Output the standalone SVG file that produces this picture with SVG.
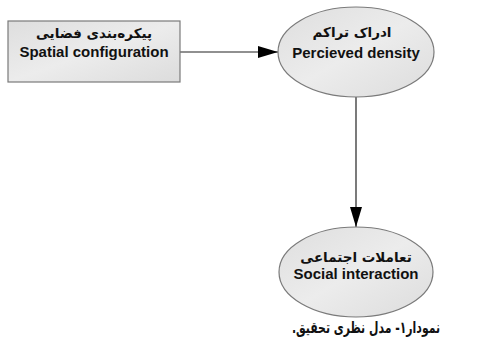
<svg xmlns="http://www.w3.org/2000/svg" width="490" height="353" viewBox="0 0 490 353">
<style>
.shape{fill:url(#g);stroke:#7a7a7a;stroke-width:1.2}
.en{font-family:"Liberation Sans",Arial,sans-serif;font-weight:bold;font-size:15px;fill:#111;text-anchor:middle}
.fa{font-family:"DejaVu Sans","Noto Sans",sans-serif;font-weight:bold;font-size:13.5px;fill:#111;text-anchor:middle}
.cap{font-family:"DejaVu Sans","Noto Sans",sans-serif;font-weight:bold;font-size:16px;fill:#111;text-anchor:middle}
.conn{stroke:#222;stroke-width:1.2;fill:none}
</style>
<defs>
<linearGradient id="g" x1="0" y1="0" x2="1" y2="1">
<stop offset="0" stop-color="#dedede"/>
<stop offset="0.5" stop-color="#ececec"/>
<stop offset="1" stop-color="#dcdcdc"/>
</linearGradient>
<marker id="arr" markerWidth="20" markerHeight="12" refX="20" refY="6" orient="auto" markerUnits="userSpaceOnUse">
<path d="M0,0 L20,6 L0,12 Z" fill="#000"/>
</marker>
</defs>
<g id="connectors">
<line class="conn" x1="180" y1="52" x2="278" y2="52" marker-end="url(#arr)"/>
<line class="conn" x1="356" y1="97" x2="356" y2="227" marker-end="url(#arr)"/>
</g>
<g id="node-spatial">
<rect class="shape" x="8" y="21" width="172" height="61"/>
<text class="fa" x="94" y="38" direction="rtl">پیکره‌بندی فضایی</text>
<text class="en" x="94" y="57">Spatial configuration</text>
</g>
<g id="node-density">
<ellipse class="shape" cx="356" cy="52" rx="78" ry="45"/>
<text class="fa" x="352" y="37" direction="rtl">ادراک تراکم</text>
<text class="en" x="356" y="58">Percieved density</text>
</g>
<g id="node-social">
<ellipse class="shape" cx="356" cy="272" rx="77" ry="45"/>
<text class="fa" x="356" y="262" direction="rtl">تعاملات اجتماعی</text>
<text class="en" x="356" y="279">Social interaction</text>
</g>
<text class="cap" transform="translate(366,333) scale(0.68,1)" x="0" y="0" direction="rtl">نمودار۱- مدل نظری تحقیق.</text>
</svg>
